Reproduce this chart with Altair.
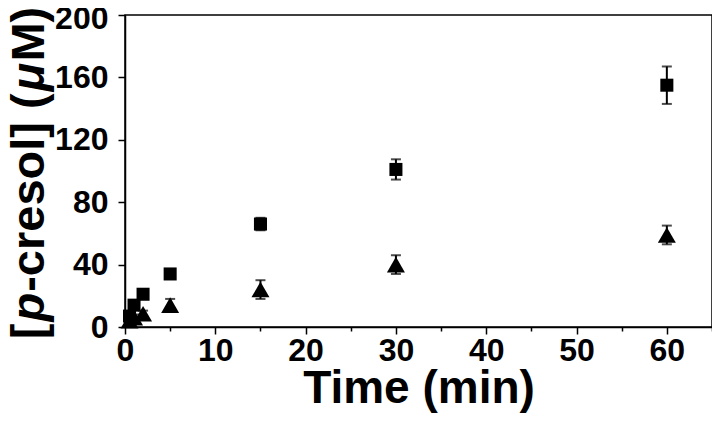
import altair as alt
import pandas as pd

# Data
time = [0.5, 1, 2, 5, 15, 30, 60]
square_val = [7, 14, 21, 34, 66, 101, 155]
square_err = [2, 2, 2, 3, 4, 6.5, 12]
triangle_val = [4, 6, 8.5, 14, 24, 40, 59]
triangle_err = [2, 2, 2, 4, 6, 6, 6]
series_names = ["square", "triangle"]

x_tick_values = list(range(0, 66, 5))
y_tick_values = list(range(0, 201, 20))

# y-axis title pieces (text, italic?)
title_pieces = ["[", "p", "-cresol] (", "μ", "M)"]
title_italic = [False, True, False, True, False]

rows = []
for name, vals, errs in zip(series_names, [square_val, triangle_val], [square_err, triangle_err]):
    for t, v, e in zip(time, vals, errs):
        rows.append({"time": t, "value": v, "lo": v - e, "hi": v + e, "series": name})
df = pd.DataFrame(rows)

FONT = "Liberation Sans"
W, H = 587, 312
TITLE_FS = 47

# Liberation Sans Bold advance widths (em) for laying out the title pieces
adv = {"[": 0.333, "]": 0.333, "p": 0.611, "-": 0.333, "c": 0.556, "r": 0.389,
       "e": 0.556, "s": 0.556, "o": 0.611, "l": 0.278, " ": 0.278, "(": 0.333,
       ")": 0.333, "μ": 0.611, "M": 0.833}
gaps = [2, 1, 2, 1, 0]
widths = [sum(adv[c] for c in p) * TITLE_FS for p in title_pieces]
total = sum(widths) + sum(gaps[:-1])
pos = H / 2 + total / 2 + 2

x_enc = alt.X(
    "time:Q",
    scale=alt.Scale(domain=[0, 65], nice=False, zero=False),
    axis=alt.Axis(
        values=x_tick_values,
        labelExpr="datum.value % 10 === 0 ? datum.label : ''",
        tickSize={"condition": {"test": "datum.value % 10 === 0", "value": 7}, "value": 4},
        labelFlush=False,
        title="Time (min)",
        titlePadding=0,
        labelPadding=1,
    ),
)
y_enc = alt.Y(
    "value:Q",
    scale=alt.Scale(domain=[0, 200], nice=False),
    axis=alt.Axis(
        values=y_tick_values,
        labelExpr="datum.value % 40 === 0 ? datum.label : ''",
        tickSize={"condition": {"test": "datum.value % 40 === 0", "value": 7}, "value": 4},
        labelOffset={"condition": {"test": "datum.value === 200", "value": 3}, "value": 0},
        labelFlush=False,
        title=None,
        labelPadding=10,
    ),
)

base = alt.Chart(df)

err_line = base.mark_rule(color="black", strokeWidth=2).encode(
    x=x_enc, y=alt.Y("lo:Q"), y2="hi:Q"
)
cap_lo = base.mark_tick(color="black", orient="horizontal", size=10, thickness=2).encode(
    x="time:Q", y="lo:Q"
)
cap_hi = base.mark_tick(color="black", orient="horizontal", size=10, thickness=2).encode(
    x="time:Q", y="hi:Q"
)
points = base.mark_point(filled=True, opacity=1, color="black").encode(
    x="time:Q",
    y=y_enc,
    shape=alt.Shape(
        "series:N",
        scale=alt.Scale(domain=series_names, range=["square", "triangle-up"]),
        legend=None,
    ),
    size=alt.Size(
        "series:N",
        scale=alt.Scale(domain=series_names, range=[170, 324]),
        legend=None,
    ),
)

title_layers = []
for piece, italic, w, g in zip(title_pieces, title_italic, widths, gaps):
    kw = dict(angle=270, align="left", baseline="alphabetic", font=FONT,
              fontSize=TITLE_FS, fontWeight="bold", color="black")
    if italic:
        kw["fontStyle"] = "italic"
    title_layers.append(
        alt.Chart(pd.DataFrame({"piece": [piece]})).mark_text(**kw).encode(
            x=alt.value(-81), y=alt.value(pos), text="piece:N"
        )
    )
    pos -= w + g

chart = (
    alt.layer(err_line, cap_lo, cap_hi, points, *title_layers)
    .properties(
        width=W,
        height=H,
        autosize=alt.AutoSizeParams(type="none"),
        padding={"left": 117, "top": 7, "right": 0, "bottom": 88},
    )
    .configure_view(stroke="black", strokeWidth=1.5)
    .configure_axis(
        grid=False,
        domainColor="black",
        domainWidth=1.5,
        tickColor="black",
        tickWidth=1.5,
        labelFont=FONT,
        labelFontSize=32,
        labelFontWeight="bold",
        labelColor="black",
        titleFont=FONT,
        titleFontSize=46,
        titleFontWeight="bold",
        titleColor="black",
    )
)

chart.save("out.html", embed_options={"renderer": "svg", "actions": False})
